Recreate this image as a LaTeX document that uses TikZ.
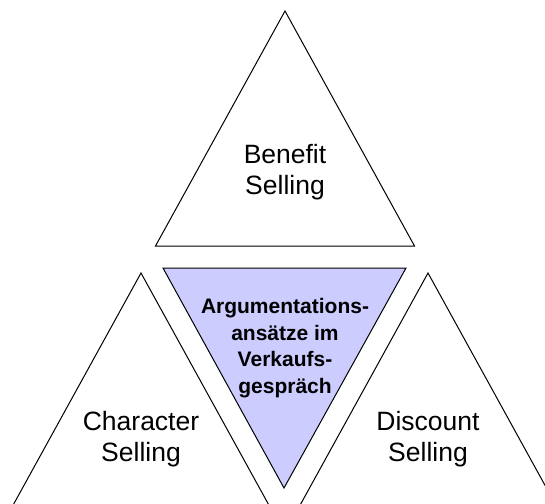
\documentclass[tikz,border=0pt]{standalone}
\usepackage{fontspec}
\setmainfont{Liberation Sans}
\usetikzlibrary{arrows,shapes}
\definecolor{lavender}{RGB}{204,204,255}
\tikzstyle{pyramid}=[draw=black,line width=1pt,fill=white]
\tikzstyle{core}=[draw=black,line width=1pt,fill=lavender]
\tikzstyle{sidetext}=[align=center,inner sep=0pt,font=\fontsize{26.5}{31.5}\selectfont]
\tikzstyle{coretext}=[align=center,inner sep=0pt,font=\fontsize{21}{26.5}\selectfont\bfseries]

\begin{document}
\begin{tikzpicture}[x=1pt,y=-1pt]
    \clip (0,0) rectangle (545,503);
    % Draw the three outer triangles from their apex
    \foreach \pos/\name in {{(285,11)/benefit}, {(141,273)/character}, {(428,273)/discount}}
        \path[pyramid] \pos coordinate (\name) -- ++(129.5,235) -- ++(-259,0) -- cycle;

    % The upside-down triangle in the middle
    \path[core] (163,268) coordinate (coretop) -- (406,268) -- (284,488) coordinate (corebottom) -- cycle;

    % Texts
    \node[sidetext] (benefitlabel) at (285,172) {Benefit\\Selling};
    \node[sidetext] (characterlabel) at (141,439) {Character\\Selling};
    \node[sidetext] (discountlabel) at (428,439) {Discount\\Selling};
    \node[coretext] (corelabel) at (285,348) {Argumentations-\\ansätze im\\Verkaufs-\\gespräch};
\end{tikzpicture}
\end{document}
